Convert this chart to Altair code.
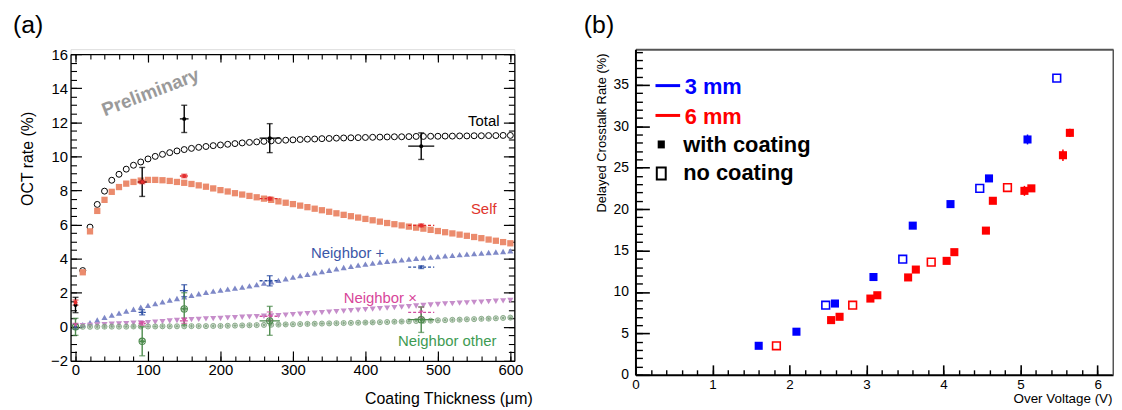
import altair as alt
import pandas as pd

FONT = "Liberation Sans"

# ---------------- panel (a): curves (every 10 um) ----------------
thickness = list(range(10, 610, 10))
total_curve = [3.3, 5.85, 7.18, 7.96, 8.6, 8.95, 9.25, 9.48, 9.67, 9.85,
               10.0, 10.12, 10.22, 10.32, 10.4, 10.47, 10.53, 10.58, 10.63, 10.67,
               10.71, 10.75, 10.79, 10.82, 10.85, 10.88, 10.91, 10.93, 10.95, 10.97,
               10.99, 11.01, 11.02, 11.04, 11.05, 11.07, 11.08, 11.09, 11.1, 11.11,
               11.12, 11.13, 11.14, 11.15, 11.15, 11.16, 11.17, 11.17, 11.18, 11.18,
               11.19, 11.19, 11.2, 11.2, 11.21, 11.21, 11.22, 11.22, 11.23, 11.23]
self_curve = [3.2, 5.6, 6.8, 7.45, 7.92, 8.2, 8.4, 8.5, 8.58, 8.62,
              8.62, 8.6, 8.56, 8.5, 8.45, 8.38, 8.3, 8.22, 8.12, 8.02,
              7.94, 7.84, 7.76, 7.68, 7.6, 7.52, 7.45, 7.36, 7.28, 7.2,
              7.11, 7.02, 6.93, 6.84, 6.75, 6.66, 6.57, 6.49, 6.41, 6.33,
              6.25, 6.17, 6.09, 6.02, 5.95, 5.88, 5.82, 5.76, 5.69, 5.62,
              5.55, 5.48, 5.41, 5.34, 5.27, 5.2, 5.12, 5.05, 4.97, 4.9]
nplus_curve = [0.12, 0.25, 0.4, 0.55, 0.68, 0.8, 0.92, 1.03, 1.15, 1.26,
               1.36, 1.46, 1.56, 1.66, 1.76, 1.85, 1.94, 2.02, 2.09, 2.15,
               2.21, 2.27, 2.33, 2.4, 2.48, 2.56, 2.64, 2.73, 2.82, 2.91,
               3.0, 3.08, 3.16, 3.24, 3.32, 3.4, 3.48, 3.55, 3.62, 3.68,
               3.74, 3.79, 3.84, 3.89, 3.93, 3.97, 4.01, 4.05, 4.09, 4.12,
               4.16, 4.19, 4.23, 4.26, 4.29, 4.32, 4.36, 4.39, 4.42, 4.46]
ncross_curve = [0.07, 0.09, 0.11, 0.13, 0.15, 0.17, 0.19, 0.21, 0.23, 0.25,
                0.28, 0.31, 0.34, 0.37, 0.4, 0.42, 0.44, 0.46, 0.48, 0.5,
                0.52, 0.54, 0.56, 0.58, 0.6, 0.62, 0.64, 0.66, 0.68, 0.71,
                0.74, 0.77, 0.8, 0.83, 0.86, 0.89, 0.92, 0.95, 0.98, 1.01,
                1.04, 1.07, 1.1, 1.13, 1.16, 1.19, 1.22, 1.25, 1.28, 1.31,
                1.34, 1.36, 1.39, 1.41, 1.43, 1.45, 1.48, 1.5, 1.52, 1.55]
nother_curve = [0.0, 0.0, 0.0, 0.01, 0.01, 0.01, 0.01, 0.02, 0.02, 0.02,
                0.02, 0.03, 0.03, 0.03, 0.03, 0.04, 0.04, 0.04, 0.05, 0.05,
                0.06, 0.07, 0.08, 0.09, 0.1, 0.11, 0.12, 0.13, 0.14, 0.15,
                0.16, 0.17, 0.18, 0.19, 0.2, 0.21, 0.22, 0.23, 0.24, 0.25,
                0.26, 0.27, 0.28, 0.3, 0.31, 0.32, 0.34, 0.35, 0.36, 0.38,
                0.39, 0.41, 0.42, 0.44, 0.45, 0.47, 0.48, 0.5, 0.52, 0.54]

# ---------------- panel (a): measurements ----------------
meas_x = [0, 92, 150, 268, 477]
total_meas = [1.28, 8.5, 12.2, 11.07, 10.6]
total_err = [0.45, 0.85, 0.8, 0.85, 0.78]
total_xerr = [2, 6, 6, 14, 18]
self_meas = [1.42, 8.5, 8.85, 7.52, 5.95]
self_err = [0.15, 0.1, 0.1, 0.08, 0.08]
self_xerr = [0, 6, 6, 14, 18]
nplus_meas = [0.0, 0.85, 2.12, 2.7, 3.5]
nplus_err = [0.15, 0.15, 0.35, 0.3, 0.08]
nplus_xerr = [0, 5, 6, 14, 18]
ncross_meas = [0.1, 0.2, 0.35, 0.62, 0.85]
ncross_err = [0.1, 0.1, 0.15, 0.25, 0.3]
ncross_xerr = [0, 5, 6, 14, 18]
nother_meas = [0.0, -0.85, 1.05, 0.35, 0.42]
nother_err = [0.5, 0.85, 0.95, 0.85, 0.75]
nother_xerr = [0, 4, 5, 14, 18]

# annotations of panel (a)
ann_right_text = ["Total", "Self"]
ann_right_x = [585, 581]
ann_right_y = [11.76, 6.64]
ann_right_color = ["#000000", "#E0352D"]
ann_left_text = ["Neighbor +", "Neighbor \u00d7", "Neighbor other"]
ann_left_x = [325, 370, 445]
ann_left_y = [4.04, 1.4, -1.1]
ann_left_color = ["#3B57A8", "#D8469A", "#3E9B52"]

# ---------------- panel (b) ----------------
b3_fill_x = [1.60, 2.09, 2.59, 3.09, 3.60, 4.09, 4.59, 5.09]
b3_fill_y = [3.5, 5.2, 8.6, 11.8, 18.0, 20.6, 23.7, 28.4]
b3_fill_e = [0.2, 0.2, 0.2, 0.2, 0.2, 0.2, 0.4, 0.6]
b3_open_x = [2.47, 3.47, 4.47, 5.47]
b3_open_y = [8.4, 13.95, 22.5, 35.8]
b6_fill_x = [2.54, 2.65, 3.05, 3.14, 3.54, 3.64, 4.04, 4.14, 4.55, 4.64, 5.05, 5.14, 5.55, 5.64]
b6_fill_y = [6.6, 7.0, 9.2, 9.6, 11.75, 12.7, 13.75, 14.8, 17.4, 21.0, 22.2, 22.5, 26.5, 29.2]
b6_fill_e = [0.2, 0.2, 0.2, 0.2, 0.2, 0.2, 0.2, 0.2, 0.4, 0.2, 0.6, 0.2, 0.7, 0.5]
b6_open_x = [1.83, 2.82, 3.84, 4.83]
b6_open_y = [3.5, 8.4, 13.6, 22.6]

leg_line_x1 = [0.26, 0.26]
leg_line_x2 = [0.58, 0.58]
leg_line_y = [34.9, 31.3]
leg_line_color = ["#0000FF", "#FF0000"]
leg_text = ["3 mm", "6 mm", "with coating", "no coating"]
leg_text_x = [0.64, 0.64, 0.62, 0.62]
leg_text_y = [33.9, 30.3, 26.9, 23.5]
leg_text_color = ["#0000FF", "#FF0000", "#000000", "#000000"]
leg_mark_x = [0.335, 0.335]
leg_mark_y = [27.8, 24.3]

# panel sizes (panel a plot area starts 5px below panel b's)
W_A, H_A, TOP_A = 447, 314, 5
W_B, H_B = 481, 328


def ax(**kw):
    base = dict(grid=False, labelFont=FONT, titleFont=FONT, labelColor="black",
                titleColor="black", titleFontWeight="normal", labelFlush=False,
                labelOverlap=False)
    base.update(kw)
    return alt.Axis(**base)


def tick_axis(orient, offset, values, size, width, domain, dcolor="black", dwidth=1.3,
              ticks=True):
    kw = dict(orient=orient, offset=offset, values=values, labels=False, ticks=ticks,
              domain=domain, title=None)
    if ticks:
        kw.update(tickSize=size, tickColor="black", tickWidth=width)
    if domain:
        kw.update(domainColor=dcolor, domainWidth=dwidth)
    return ax(**kw)


# ================= panel (a) =================
xs_a = alt.Scale(domain=[-6.85, 605.5], nice=False, zero=False)
ys_a = alt.Scale(domain=[-2, 16], range=[H_A, TOP_A], nice=False, zero=False)

xa_major = list(range(0, 601, 100))
xa_minor = list(range(0, 601, 20))
ya_major = list(range(-2, 17, 2))
ya_minor = [-2 + 0.5 * k for k in range(37)]

ax_a_x_lab = ax(orient="bottom", values=xa_major, ticks=False, tickSize=0,
                domain=False, labelFontSize=15, labelPadding=2,
                title="Coating Thickness (\u03bcm)", titleFontSize=16, titleX=465, titleY=38,
                titleAlign="right", titleBaseline="middle", titleAngle=0)
ax_a_y_lab = ax(orient="left", values=ya_major, ticks=False, tickSize=0,
                domain=False, labelFontSize=15, labelPadding=3,
                title="OCT rate (%)", titleFontSize=16, titleX=-43, titleY=110,
                titleAngle=270, titleAlign="center", titleBaseline="middle")
# inward ticks: axes with the opposite orient placed on the frame edges
ax_a_xb_maj = tick_axis("top", -H_A, xa_major, 10, 1.2, True)
ax_a_xb_min = tick_axis("top", -H_A, xa_minor, 5, 1.1, False)
ax_a_xt_maj = tick_axis("bottom", -(H_A - TOP_A), xa_major, 8, 1.2, True)
ax_a_xt_min = tick_axis("bottom", -(H_A - TOP_A), xa_minor, 5, 1.1, False)
ax_a_yl_maj = tick_axis("right", -W_A, ya_major, 11, 1.2, True)
ax_a_yl_min = tick_axis("right", -W_A, ya_minor, 6, 1.1, False)
ax_a_yr_maj = tick_axis("left", -W_A, ya_major, 11, 1.2, True)
ax_a_yr_min = tick_axis("left", -W_A, ya_minor, 6, 1.1, False)

curves = pd.DataFrame({"x": thickness, "total": total_curve, "self": self_curve,
                       "nplus": nplus_curve, "ncross": ncross_curve, "nother": nother_curve})


def XA(axis=None, field="x"):
    return alt.X(f"{field}:Q", scale=xs_a, axis=axis)


def YA(field, axis=None):
    return alt.Y(f"{field}:Q", scale=ys_a, axis=axis)


c_total = alt.Chart(curves).mark_point(shape="circle", filled=False, color="black",
                                       strokeWidth=1, size=36, opacity=1).encode(
    x=XA(ax_a_x_lab), y=YA("total", ax_a_y_lab))
c_self = alt.Chart(curves).mark_point(shape="square", filled=True, color="#EB8B6D",
                                      size=40, opacity=1).encode(
    x=XA(ax_a_xb_maj), y=YA("self", ax_a_yl_maj))
c_nplus = alt.Chart(curves).mark_point(shape="triangle-up", filled=True, color="#7E88C7",
                                       size=38, opacity=1).encode(
    x=XA(ax_a_xb_min), y=YA("nplus", ax_a_yl_min))
c_ncross = alt.Chart(curves).mark_point(shape="triangle-down", filled=True, color="#C68DCA",
                                        size=38, opacity=1).encode(
    x=XA(ax_a_xt_maj), y=YA("ncross", ax_a_yr_maj))
c_nother = alt.Chart(curves).mark_point(shape="circle", filled=False, color="#7FA37F",
                                        strokeWidth=0.9, size=26, opacity=1).encode(
    x=XA(ax_a_xt_min), y=YA("nother", ax_a_yr_min))
ASTER = "M-1,0L1,0M0,-1L0,1M-0.7,-0.7L0.7,0.7M-0.7,0.7L0.7,-0.7"
c_nother2 = alt.Chart(curves).mark_point(shape=ASTER, filled=False, color="#7FA37F",
                                         strokeWidth=0.8, size=20, opacity=1).encode(
    x=XA(), y=YA("nother"))

rows = []
for name, ys, es, xes, col, dash in [
        ("total", total_meas, total_err, total_xerr, "#000000", "solid"),
        ("self", self_meas, self_err, self_xerr, "#E32D2D", "dashed"),
        ("nplus", nplus_meas, nplus_err, nplus_xerr, "#2D4FA3", "dashed"),
        ("ncross", ncross_meas, ncross_err, ncross_xerr, "#D050A0", "dashed"),
        ("nother", nother_meas, nother_err, nother_xerr, "#4C8A4C", "solid")]:
    for xi, yi, ei, xe in zip(meas_x, ys, es, xes):
        rows.append(dict(series=name, x=xi, y=yi, lo=yi - ei, hi=yi + ei,
                         xlo=xi - xe, xhi=xi + xe, color=col, dash=dash))
meas = pd.DataFrame(rows)
COL = alt.Color("color:N", scale=None)

m_vbar = alt.Chart(meas).mark_rule(strokeWidth=1.4).encode(
    x=XA(), y=YA("lo"), y2="hi:Q", color=COL)
m_cap_lo = alt.Chart(meas).mark_tick(orient="horizontal", size=6, thickness=1.4).encode(
    x=XA(), y=YA("lo"), color=COL)
m_cap_hi = alt.Chart(meas).mark_tick(orient="horizontal", size=6, thickness=1.4).encode(
    x=XA(), y=YA("hi"), color=COL)
m_hbar = alt.Chart(meas).transform_filter("datum.xhi > datum.xlo").mark_rule(
    strokeWidth=1.4).encode(
    x=XA(field="xlo"), x2="xhi:Q", y=YA("y"), color=COL,
    strokeDash=alt.StrokeDash("dash:N", scale=alt.Scale(domain=["solid", "dashed"],
                                                        range=[[1, 0], [3, 2]]), legend=None))
STAR = ("M0,-1L0.29,-0.4L0.95,-0.31L0.48,0.15L0.59,0.81L0,0.5L-0.59,0.81L-0.48,0.15"
        "L-0.95,-0.31L-0.29,-0.4Z")
m_pts = alt.Chart(meas).transform_filter("datum.series != 'nother'").mark_point(
    filled=True, opacity=1).encode(
    x=XA(), y=YA("y"), color=COL,
    shape=alt.Shape("series:N", scale=alt.Scale(domain=["total", "self", "nplus", "ncross"],
                                                range=["circle", "circle", STAR, "triangle-down"]),
                    legend=None),
    size=alt.Size("series:N", scale=alt.Scale(domain=["total", "self", "nplus", "ncross"],
                                              range=[16, 18, 55, 22]), legend=None))
m_other = alt.Chart(meas).transform_filter("datum.series == 'nother'").mark_point(
    shape="circle", filled=False, strokeWidth=1.1, size=40, opacity=1).encode(
    x=XA(), y=YA("y"), color=COL)
m_other2 = alt.Chart(meas).transform_filter("datum.series == 'nother'").mark_point(
    shape=ASTER, filled=False, strokeWidth=1, size=22, opacity=1).encode(
    x=XA(), y=YA("y"), color=COL)

ann_r = pd.DataFrame({"t": ann_right_text, "x": ann_right_x, "y": ann_right_y, "color": ann_right_color})
ann_l = pd.DataFrame({"t": ann_left_text, "x": ann_left_x, "y": ann_left_y, "color": ann_left_color})
t_right = alt.Chart(ann_r).mark_text(align="right", baseline="alphabetic", font=FONT,
                                     fontSize=15).encode(x=XA(), y=YA("y"), text="t:N", color=COL)
t_left = alt.Chart(ann_l).mark_text(align="left", baseline="alphabetic", font=FONT,
                                    fontSize=15).encode(x=XA(), y=YA("y"), text="t:N", color=COL)
prelim = alt.Chart(pd.DataFrame({"t": ["Preliminary"], "x": [103.5], "y": [13.75]})).mark_text(
    align="center", baseline="middle", font=FONT, fontSize=19, fontWeight="bold",
    color="#9A9A9A", angle=339).encode(x=XA(), y=YA("y"), text="t:N")
lab_a = alt.Chart(pd.DataFrame({"t": ["(a)"]})).mark_text(
    align="left", baseline="middle", font=FONT, fontSize=25, color="black").encode(
    x=alt.value(-58), y=alt.value(-24), text="t:N")

panel_a = alt.layer(c_total, c_self, c_nplus, c_ncross, c_nother, c_nother2,
                    m_hbar, m_vbar, m_cap_lo, m_cap_hi, m_other, m_other2, m_pts,
                    t_right, t_left, prelim, lab_a).resolve_axis(
    x="independent", y="independent").properties(width=W_A, height=H_A)

# ================= panel (b) =================
xs_b = alt.Scale(domain=[0, 6.2], nice=False, zero=False)
ys_b = alt.Scale(domain=[0, 39.3], nice=False, zero=False)

xb_major = list(range(0, 7))
xb_minor = [round(0.2 * k, 1) for k in range(31)]
yb_major = list(range(0, 36, 5))
yb_minor = list(range(0, 40))
ax_b_x_lab = ax(orient="bottom", values=xb_major, ticks=False, tickSize=0,
                domain=False, labelFontSize=13.5, labelPadding=3,
                title="Over Voltage (V)", titleFontSize=13.5, titleX=480, titleY=24,
                titleAlign="right", titleBaseline="middle", titleAngle=0)
ax_b_y_lab = ax(orient="left", values=yb_major, ticks=False, tickSize=0,
                domain=False, labelFontSize=14, labelPadding=7,
                title="Delayed Crosstalk Rate (%)", titleFontSize=13, titleX=-34, titleY=84,
                titleAngle=270, titleAlign="center", titleBaseline="middle")
ax_b_xb_maj = tick_axis("top", -H_B, xb_major, 10, 1.6, True, "black", 2)
ax_b_xb_min = tick_axis("top", -H_B, xb_minor, 5, 1.4, False)
ax_b_yl_maj = tick_axis("right", -W_B, yb_major, 14, 1.6, True, "black", 2)
ax_b_yl_min = tick_axis("right", -W_B, yb_minor, 7, 1.4, False)
ax_b_x_top = tick_axis("bottom", -H_B, [0], 0, 1, True, "#555555", 2, ticks=False)
ax_b_y_right = tick_axis("left", -W_B, [0], 0, 1, True, "#555555", 2, ticks=False)

fill_df = pd.DataFrame({"x": b3_fill_x + b6_fill_x, "y": b3_fill_y + b6_fill_y,
                        "e": b3_fill_e + b6_fill_e,
                        "color": ["#0000FF"] * len(b3_fill_x) + ["#FF0000"] * len(b6_fill_x)})
fill_df["lo"] = fill_df["y"] - fill_df["e"]
fill_df["hi"] = fill_df["y"] + fill_df["e"]
open_df = pd.DataFrame({"x": b3_open_x + b6_open_x, "y": b3_open_y + b6_open_y,
                        "color": ["#0000FF"] * len(b3_open_x) + ["#FF0000"] * len(b6_open_x)})


def XB(axis=None, field="x"):
    return alt.X(f"{field}:Q", scale=xs_b, axis=axis)


def YB(field, axis=None):
    return alt.Y(f"{field}:Q", scale=ys_b, axis=axis)


b_err = alt.Chart(fill_df).mark_rule(strokeWidth=1.5).encode(
    x=XB(ax_b_x_top), y=YB("lo", ax_b_y_right), y2="hi:Q", color=COL)
b_fill = alt.Chart(fill_df).mark_point(shape="square", filled=True, size=66, opacity=1).encode(
    x=XB(ax_b_x_lab), y=YB("y", ax_b_y_lab), color=COL)
b_open = alt.Chart(open_df).mark_point(shape="square", filled=False, size=60, strokeWidth=1.6,
                                       opacity=1).encode(
    x=XB(ax_b_xb_maj), y=YB("y", ax_b_yl_maj), color=COL)

ll = pd.DataFrame({"x1": leg_line_x1, "x2": leg_line_x2, "y": leg_line_y, "color": leg_line_color})
b_leg_lines = alt.Chart(ll).mark_rule(strokeWidth=3).encode(
    x=XB(ax_b_xb_min, field="x1"), x2="x2:Q", y=YB("y", ax_b_yl_min), color=COL)
lt = pd.DataFrame({"t": leg_text, "x": leg_text_x, "y": leg_text_y, "color": leg_text_color})
b_leg_text = alt.Chart(lt).mark_text(align="left", baseline="alphabetic", font=FONT,
                                     fontSize=22, fontWeight="bold").encode(
    x=XB(), y=YB("y"), text="t:N", color=COL)
lm = pd.DataFrame({"x": leg_mark_x, "y": leg_mark_y, "kind": ["filled", "open"]})
b_leg_m1 = alt.Chart(lm).transform_filter("datum.kind == 'filled'").mark_point(
    shape="M-0.9,-1H0.9V1H-0.9Z", filled=True, color="black", size=64, opacity=1).encode(
    x=XB(), y=YB("y"))
b_leg_m2 = alt.Chart(lm).transform_filter("datum.kind == 'open'").mark_point(
    shape="M-0.75,-1H0.75V1H-0.75Z", filled=False, color="black", size=144, strokeWidth=2,
    opacity=1).encode(x=XB(), y=YB("y"))
lab_b = alt.Chart(pd.DataFrame({"t": ["(b)"]})).mark_text(
    align="left", baseline="middle", font=FONT, fontSize=25, color="black").encode(
    x=alt.value(-52), y=alt.value(-24.5), text="t:N")

panel_b = alt.layer(b_err, b_fill, b_open, b_leg_lines, b_leg_text, b_leg_m1, b_leg_m2,
                    lab_b).resolve_axis(x="independent", y="independent").properties(
    width=W_B, height=H_B)

chart = alt.hconcat(panel_a, panel_b, spacing=50).properties(
    padding={"left": 4, "top": 3, "right": 0, "bottom": 0}
).configure_view(stroke=None).configure(font=FONT)

chart.save("out.html", embed_options={"renderer": "svg", "actions": False})
